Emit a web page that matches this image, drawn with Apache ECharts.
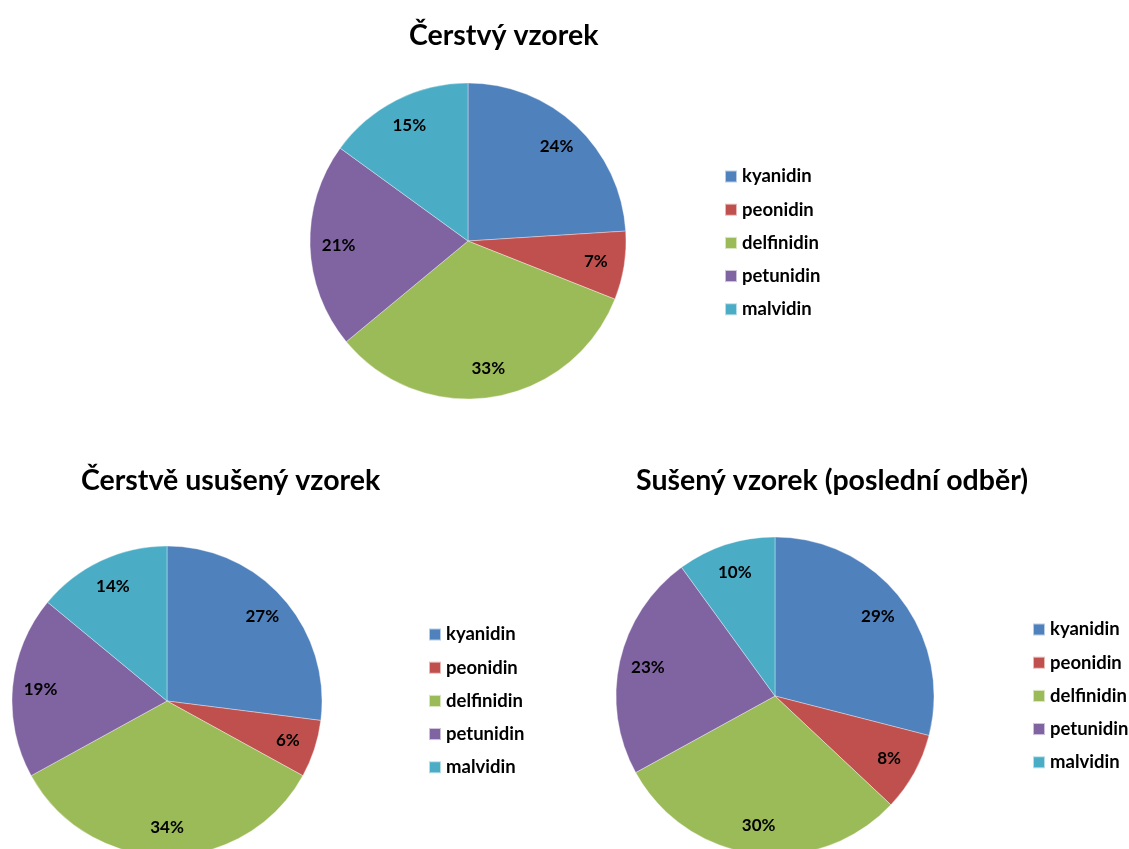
<!DOCTYPE html>
<html lang="cs">
<head>
<meta charset="utf-8">
<title>Antokyany ve vzorcích</title>
<script src="https://cdn.jsdelivr.net/npm/echarts@6/dist/echarts.min.js"></script>
<style>
  html, body { margin: 0; padding: 0; background: #ffffff; }
  #chart { width: 1129px; height: 849px; }
</style>
</head>
<body>
<div id="chart"></div>
<script>
// Anthocyanin names (slice order, clockwise from 12 o'clock)
const categories = ['kyanidin', 'peonidin', 'delfinidin', 'petunidin', 'malvidin'];

// Share of each anthocyanin in percent
const freshValues = [24, 7, 33, 21, 15];
const freshDriedValues = [27, 6, 34, 19, 14];
const driedLastValues = [29, 8, 30, 23, 10];

const chartTitles = ['Čerstvý vzorek', 'Čerstvě usušený vzorek', 'Sušený vzorek (poslední odběr)'];

const sliceColors = ['#4F81BD', '#C0504D', '#9BBB59', '#8064A2', '#4BACC6'];

const FONT = 'Lato, "Open Sans", sans-serif';

// Placement of each pie: centre, radius, title and legend anchors
const panels = [
  { values: freshValues,      center: [468, 241], r: 158, titleLeft: 409, titleTop: 21,  legendLeft: 724,  legendTop: 167 },
  { values: freshDriedValues, center: [167, 701], r: 155, titleLeft: 81,  titleTop: 466, legendLeft: 428,  legendTop: 625 },
  { values: driedLastValues,  center: [775, 696], r: 159, titleLeft: 636, titleTop: 466, legendLeft: 1032, legendTop: 620 }
];

function toData(values) {
  return categories.map((name, i) => ({ name: name, value: values[i] }));
}

const series = [];
panels.forEach(p => {
  // Filled pie
  series.push({
    type: 'pie',
    center: p.center,
    radius: [0, p.r],
    startAngle: 90,
    clockwise: true,
    avoidLabelOverlap: false,
    label: { show: false },
    labelLine: { show: false },
    emphasis: { disabled: true },
    itemStyle: { borderColor: 'rgba(255,255,255,0.6)', borderWidth: 0.6 },
    data: toData(p.values)
  });
  // Transparent ring carrying the percentage labels at ~80 % of the radius
  series.push({
    type: 'pie',
    silent: true,
    center: p.center,
    radius: [p.r * 0.6, p.r],
    startAngle: 90,
    clockwise: true,
    avoidLabelOverlap: false,
    itemStyle: { color: 'rgba(0,0,0,0)', borderWidth: 0 },
    emphasis: { disabled: true },
    label: {
      show: true,
      position: 'inside',
      formatter: '{d}%',
      color: '#000',
      fontFamily: FONT,
      fontWeight: 'bold',
      fontSize: 17
    },
    labelLine: { show: false },
    data: toData(p.values)
  });
});

const option = {
  animation: false,
  backgroundColor: '#ffffff',
  color: sliceColors,
  title: panels.map((p, i) => ({
    text: chartTitles[i],
    left: p.titleLeft,
    top: p.titleTop,
    padding: 0,
    textStyle: { fontFamily: FONT, fontWeight: 'bold', fontSize: 28.5, color: '#000' }
  })),
  legend: panels.map(p => ({
    orient: 'vertical',
    left: p.legendLeft,
    top: p.legendTop,
    padding: 0,
    data: categories,
    icon: 'rect',
    itemWidth: 12,
    itemHeight: 12,
    itemGap: 14.2,
    selectedMode: false,
    textStyle: { fontFamily: FONT, fontWeight: 'bold', fontSize: 18.5, color: '#000', lineHeight: 18 }
  })),
  series: series
};

const chart = echarts.init(document.getElementById('chart'), null, { renderer: 'canvas' });
chart.setOption(option);
</script>
</body>
</html>
